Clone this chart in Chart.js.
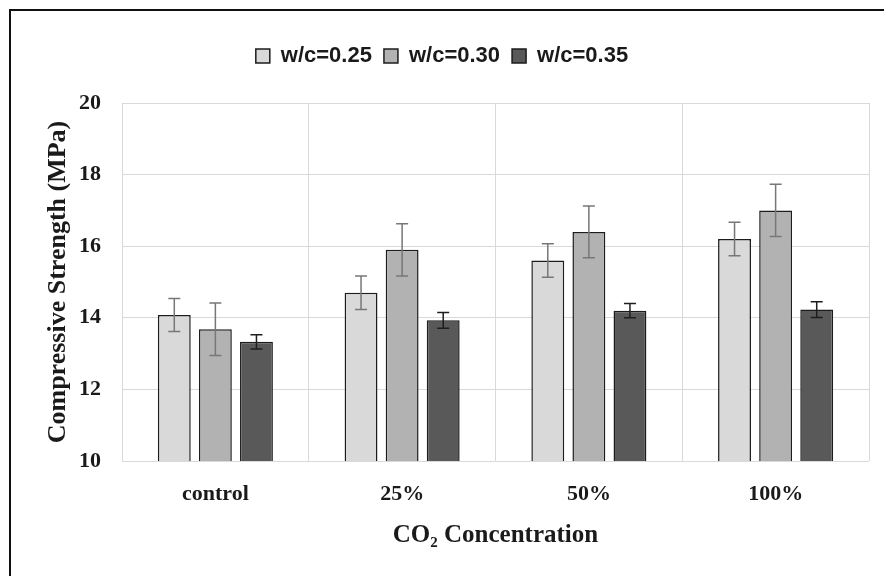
<!DOCTYPE html>
<html>
<head>
<meta charset="utf-8">
<script src="https://cdn.jsdelivr.net/npm/chart.js@4/dist/chart.umd.min.js"></script>
<style>
  html, body { margin: 0; padding: 0; background: #fff; overflow: hidden; }
  #wrap { position: relative; width: 884px; height: 576px; }
  #frame {
    position: absolute; left: 9px; top: 9px; width: 900px; height: 600px;
    border-top: 2px solid #111; border-left: 2px solid #111; pointer-events: none;
  }
  canvas { position: absolute; left: 0; top: 0; }
</style>
</head>
<body>
<div id="wrap">
  <canvas id="strengthChart" width="884" height="576"></canvas>
  <div id="frame"></div>
</div>
<script>
// Kategorier og måleverdier (MPa)
const categories = ["control", "25%", "50%", "100%"];
const seriesNames = ["w/c=0.25", "w/c=0.30", "w/c=0.35"];

const wc025 = [14.08, 14.70, 15.60, 16.20];
const wc030 = [13.68, 15.90, 16.40, 17.00];
const wc035 = [13.33, 13.93, 14.20, 14.23];

// Standardavvik (feilstolper)
const wc025Err = [0.46, 0.47, 0.47, 0.47];
const wc030Err = [0.73, 0.73, 0.72, 0.73];
const wc035Err = [0.20, 0.22, 0.20, 0.22];

const yTicks = [10, 12, 14, 16, 18, 20];

const fills = ["#d9d9d9", "#b2b2b2", "#595959"];
const errColors = ["#777777", "#777777", "#1e1e1e"];

const values = [wc025, wc030, wc035];
const errors = [wc025Err, wc030Err, wc035Err];

// Tegner feilstolper over hver søyle
const errorBars = {
  id: "errorBars",
  afterDatasetsDraw(chart) {
    const ctx = chart.ctx;
    const y = chart.scales.y;
    chart.data.datasets.forEach((ds, di) => {
      const meta = chart.getDatasetMeta(di);
      meta.data.forEach((bar, i) => {
        const v = ds.data[i];
        const e = ds.errors[i];
        const top = y.getPixelForValue(v + e);
        const bot = y.getPixelForValue(v - e);
        const cap = 6;
        ctx.save();
        ctx.strokeStyle = ds.errColor;
        ctx.lineWidth = 1.5;
        ctx.beginPath();
        ctx.moveTo(bar.x, top); ctx.lineTo(bar.x, bot);
        ctx.moveTo(bar.x - cap, top); ctx.lineTo(bar.x + cap, top);
        ctx.moveTo(bar.x - cap, bot); ctx.lineTo(bar.x + cap, bot);
        ctx.stroke();
        ctx.restore();
      });
    });
  }
};

const serif = "'Liberation Serif', 'Times New Roman', serif";

new Chart(document.getElementById("strengthChart"), {
  type: "bar",
  data: {
    labels: categories,
    datasets: seriesNames.map((name, i) => ({
      label: name,
      data: values[i],
      errors: errors[i],
      errColor: errColors[i],
      backgroundColor: fills[i],
      borderColor: "#1c1c1c",
      borderWidth: 1.5,
      categoryPercentage: 0.66,
      barPercentage: 0.8
    }))
  },
  options: {
    responsive: false,
    animation: false,
    layout: { padding: { left: 15, right: 15, top: 33, bottom: 25 } },
    plugins: {
      tooltip: { enabled: false },
      legend: {
        position: "top",
        weight: 3000,
        labels: {
          boxWidth: 14,
          boxHeight: 14,
          padding: 12,
          color: "#1a1a1a",
          font: { family: "'Liberation Sans', Arial, sans-serif", size: 22, weight: "bold" }
        }
      },
      // tom tittel brukes som luft mellom forklaring og plottet
      title: {
        display: true,
        text: "",
        font: { size: 10 },
        padding: { top: 14, bottom: 0 }
      }
    },
    scales: {
      x: {
        grid: { color: "#d9d9d9", drawTicks: false, offset: true },
        border: { display: false },
        ticks: {
          color: "#1a1a1a",
          padding: 20,
          font: { family: serif, size: 22, weight: "bold" }
        },
        title: {
          display: true,
          text: "CO₂ Concentration",
          color: "#1a1a1a",
          padding: { top: 0, bottom: 0 },
          font: { family: serif, size: 25, weight: "bold" }
        },
        afterFit(scale) { scale.height = 90; }
      },
      y: {
        min: 10,
        max: 20,
        afterBuildTicks(scale) { scale.ticks = yTicks.map(v => ({ value: v })); },
        grid: { color: "#d9d9d9", drawTicks: false },
        border: { display: false },
        ticks: {
          color: "#1a1a1a",
          padding: 21,
          font: { family: serif, size: 22, weight: "bold" }
        },
        title: {
          display: true,
          text: "Compressive Strength (MPa)",
          color: "#1a1a1a",
          padding: { top: 28, bottom: 0 },
          font: { family: serif, size: 26, weight: "bold" }
        },
        afterFit(scale) { scale.width = 107; }
      }
    }
  },
  plugins: [errorBars]
});
</script>
</body>
</html>
